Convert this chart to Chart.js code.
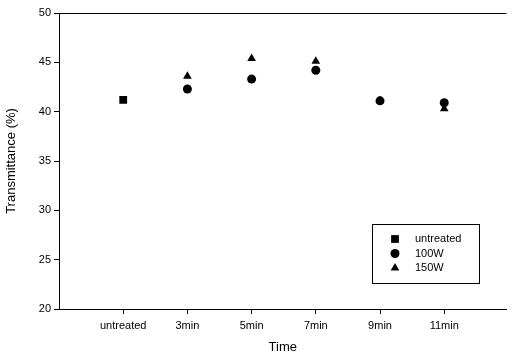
<!DOCTYPE html>
<html>
<head>
<meta charset="utf-8">
<script src="https://cdn.jsdelivr.net/npm/chart.js@4"></script>
<style>
  body { margin: 0; background: #fff; }
  #wrap { width: 512px; height: 359px; }
</style>
</head>
<body>
<div id="wrap"><canvas id="myChart"></canvas></div>
<script>
const categories = ['untreated', '3min', '5min', '7min', '9min', '11min'];
const yTicks = [20, 25, 30, 35, 40, 45, 50];
const untreatedValues = [41.2, null, null, null, null, null];
const w100Values = [null, 42.3, 43.3, 44.2, 41.1, 40.9];
const w150Values = [null, 43.6, 45.4, 45.1, 41.1, 40.3];

const toPoints = arr => arr.map((v, i) => ({ x: i, y: v })).filter(p => p.y !== null);

// legend box drawn inside the plot, like the original figure
const boxLegend = {
    id: 'boxLegend',
    afterDraw(chart) {
        const c = chart.ctx;
        const x0 = 372, y0 = 224, w = 107, h = 59;
        c.save();
        c.strokeStyle = '#000';
        c.lineWidth = 1;
        c.strokeRect(x0 + 0.5, y0 + 0.5, w, h);
        c.font = '11px "Liberation Sans", Arial, sans-serif';
        c.fillStyle = '#000';
        c.textBaseline = 'middle';
        chart.data.datasets.forEach((ds, i) => {
            const cy = y0 + 15 + i * 14.5;
            Chart.helpers.drawPoint(c, {
                pointStyle: ds.pointStyle,
                radius: ds.pointRadius,
                borderWidth: 0
            }, x0 + 23, cy);
            c.fillStyle = '#000';
            c.fillText(ds.label, x0 + 43, cy);
        });
        c.restore();
    }
};

new Chart(document.getElementById('myChart'), {
    type: 'scatter',
    data: {
        datasets: [
            { label: 'untreated', data: toPoints(untreatedValues), pointStyle: 'rect', pointRadius: 5.5 },
            { label: '100W', data: toPoints(w100Values), pointStyle: 'circle', pointRadius: 4.5 },
            { label: '150W', data: toPoints(w150Values), pointStyle: 'triangle', pointRadius: 5 }
        ].map(d => Object.assign(d, {
            backgroundColor: '#000',
            borderColor: '#000',
            borderWidth: 0,
            pointHoverRadius: d.pointRadius
        }))
    },
    options: {
        responsive: true,
        maintainAspectRatio: false,
        animation: false,
        layout: { padding: { top: 13, right: 0, left: 0, bottom: 0 } },
        plugins: {
            legend: { display: false },
            tooltip: { enabled: false }
        },
        scales: {
            x: {
                type: 'linear',
                min: -1,
                max: 5.97,
                afterBuildTicks: s => { s.ticks = categories.map((c, i) => ({ value: i })); },
                afterFit: s => { s.height = 50; },
                grid: { drawOnChartArea: false, tickLength: 5, color: '#000' },
                border: { color: '#000', width: 1 },
                ticks: {
                    color: '#000',
                    padding: 5,
                    font: { size: 11, family: '"Liberation Sans", Arial' },
                    callback: v => categories[v]
                },
                title: {
                    display: true,
                    text: 'Time',
                    color: '#000',
                    padding: { top: 7 },
                    font: { size: 13, family: '"Liberation Sans", Arial' }
                }
            },
            y: {
                min: 20,
                max: 50,
                afterBuildTicks: s => { s.ticks = yTicks.map(v => ({ value: v })); },
                afterFit: s => { s.width = 59; },
                grid: { drawOnChartArea: false, tickLength: 5, color: '#000' },
                border: { color: '#000', width: 1 },
                ticks: {
                    color: '#000',
                    padding: 3,
                    font: { size: 11, family: '"Liberation Sans", Arial' }
                },
                title: {
                    display: true,
                    text: 'Transmittance (%)',
                    color: '#000',
                    padding: { top: 4, bottom: 2 },
                    font: { size: 13, family: '"Liberation Sans", Arial' }
                }
            }
        }
    },
    plugins: [boxLegend, {
        id: 'topLine',
        afterDraw(chart) {
            const a = chart.chartArea, c = chart.ctx;
            c.save();
            c.strokeStyle = '#000';
            c.lineWidth = 1;
            c.beginPath();
            c.moveTo(a.left, a.top + 0.5);
            c.lineTo(a.right, a.top + 0.5);
            c.stroke();
            c.restore();
        }
    }]
});
</script>
</body>
</html>
